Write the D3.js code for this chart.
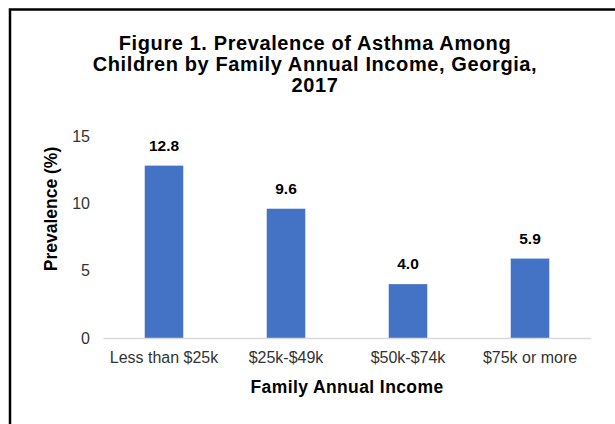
<!DOCTYPE html>
<html>
<head>
<meta charset="utf-8">
<script src="https://cdn.jsdelivr.net/npm/d3@7"></script>
<style>
  body { margin: 0; background: #fff; }
  svg { font-family: Arial, "Liberation Sans", sans-serif; display: block; }
</style>
</head>
<body>
<div class="chart"></div>
<script>
var categories = ["Less than $25k", "$25k-$49k", "$50k-$74k", "$75k or more"];
var prevalence = [12.8, 9.6, 4.0, 5.9];
var yTicks = [0, 5, 10, 15];
var titleLines = ["Figure 1. Prevalence of Asthma Among",
                  "Children by Family Annual Income, Georgia,",
                  "2017"];

var svgWidth = 615;
var svgHeight = 424;

var margin = { top: 136, right: 24, bottom: 86, left: 103 };
var width = svgWidth - margin.left - margin.right;
var height = svgHeight - margin.top - margin.bottom;

var svg = d3.select(".chart")
    .append("svg")
    .attr("width", svgWidth)
    .attr("height", svgHeight);

// frame (cropped on right and bottom)
svg.append("path")
    .attr("d", `M10,${svgHeight + 5} V9.5 H${svgWidth + 5}`)
    .attr("fill", "none")
    .attr("stroke", "#000")
    .attr("stroke-width", 2.5);

// title
svg.append("text")
    .attr("x", 315)
    .attr("y", 50)
    .attr("text-anchor", "middle")
    .attr("font-size", "20px")
    .attr("font-weight", "bold")
    .attr("letter-spacing", "0.6px")
    .attr("fill", "#000")
    .selectAll("tspan")
    .data(titleLines)
    .enter()
    .append("tspan")
    .attr("x", 315)
    .attr("dy", (d, i) => i === 0 ? 0 : 21)
    .text(d => d);

var chartGroup = svg.append("g")
    .attr("transform", `translate(${margin.left}, ${margin.top})`);

var xScale = d3.scaleBand()
    .domain(categories)
    .range([0, width])
    .padding(0);

var yScale = d3.scaleLinear()
    .domain([0, 15])
    .range([height, 0]);

var barWidth = xScale.bandwidth() * 0.316;

// y axis (labels only)
var leftAxis = d3.axisLeft(yScale)
    .tickValues(yTicks)
    .tickSize(0)
    .tickPadding(13);

chartGroup.append("g")
    .call(leftAxis)
    .call(g => g.select(".domain").remove())
    .selectAll("text")
    .attr("font-family", "Arial, 'Liberation Sans', sans-serif")
    .attr("font-size", "16px")
    .attr("fill", "#333");

// bars
chartGroup.selectAll("rect.bar")
    .data(prevalence)
    .enter()
    .append("rect")
    .attr("class", "bar")
    .attr("x", (d, i) => xScale(categories[i]) + xScale.bandwidth() / 2 - barWidth / 2)
    .attr("y", d => yScale(d))
    .attr("width", barWidth)
    .attr("height", d => height - yScale(d))
    .attr("fill", "#4472C4");

// x axis
var bottomAxis = d3.axisBottom(xScale)
    .tickSize(0)
    .tickPadding(14);

chartGroup.append("g")
    .attr("transform", `translate(0, ${height})`)
    .call(bottomAxis)
    .call(g => g.select(".domain")
        .attr("stroke", "#d9d9d9")
        .attr("stroke-width", 1.5))
    .selectAll("text")
    .attr("font-family", "Arial, 'Liberation Sans', sans-serif")
    .attr("font-size", "16px")
    .attr("fill", "#333");

// data labels
chartGroup.selectAll("text.value")
    .data(prevalence)
    .enter()
    .append("text")
    .attr("class", "value")
    .attr("x", (d, i) => xScale(categories[i]) + xScale.bandwidth() / 2)
    .attr("y", d => yScale(d) - 15)
    .attr("text-anchor", "middle")
    .attr("font-size", "15.5px")
    .attr("font-weight", "bold")
    .attr("fill", "#000")
    .text(d => d.toFixed(1));

// axis titles
chartGroup.append("text")
    .attr("transform", "rotate(-90)")
    .attr("x", -(209 - margin.top))
    .attr("y", 56.5 - margin.left)
    .attr("text-anchor", "middle")
    .attr("font-size", "17.5px")
    .attr("font-weight", "bold")
    .attr("fill", "#000")
    .text("Prevalence (%)");

chartGroup.append("text")
    .attr("x", width / 2)
    .attr("y", 392.5 - margin.top)
    .attr("text-anchor", "middle")
    .attr("font-size", "17.5px")
    .attr("font-weight", "bold")
    .attr("letter-spacing", "0.4px")
    .attr("fill", "#000")
    .text("Family Annual Income");
</script>
</body>
</html>
